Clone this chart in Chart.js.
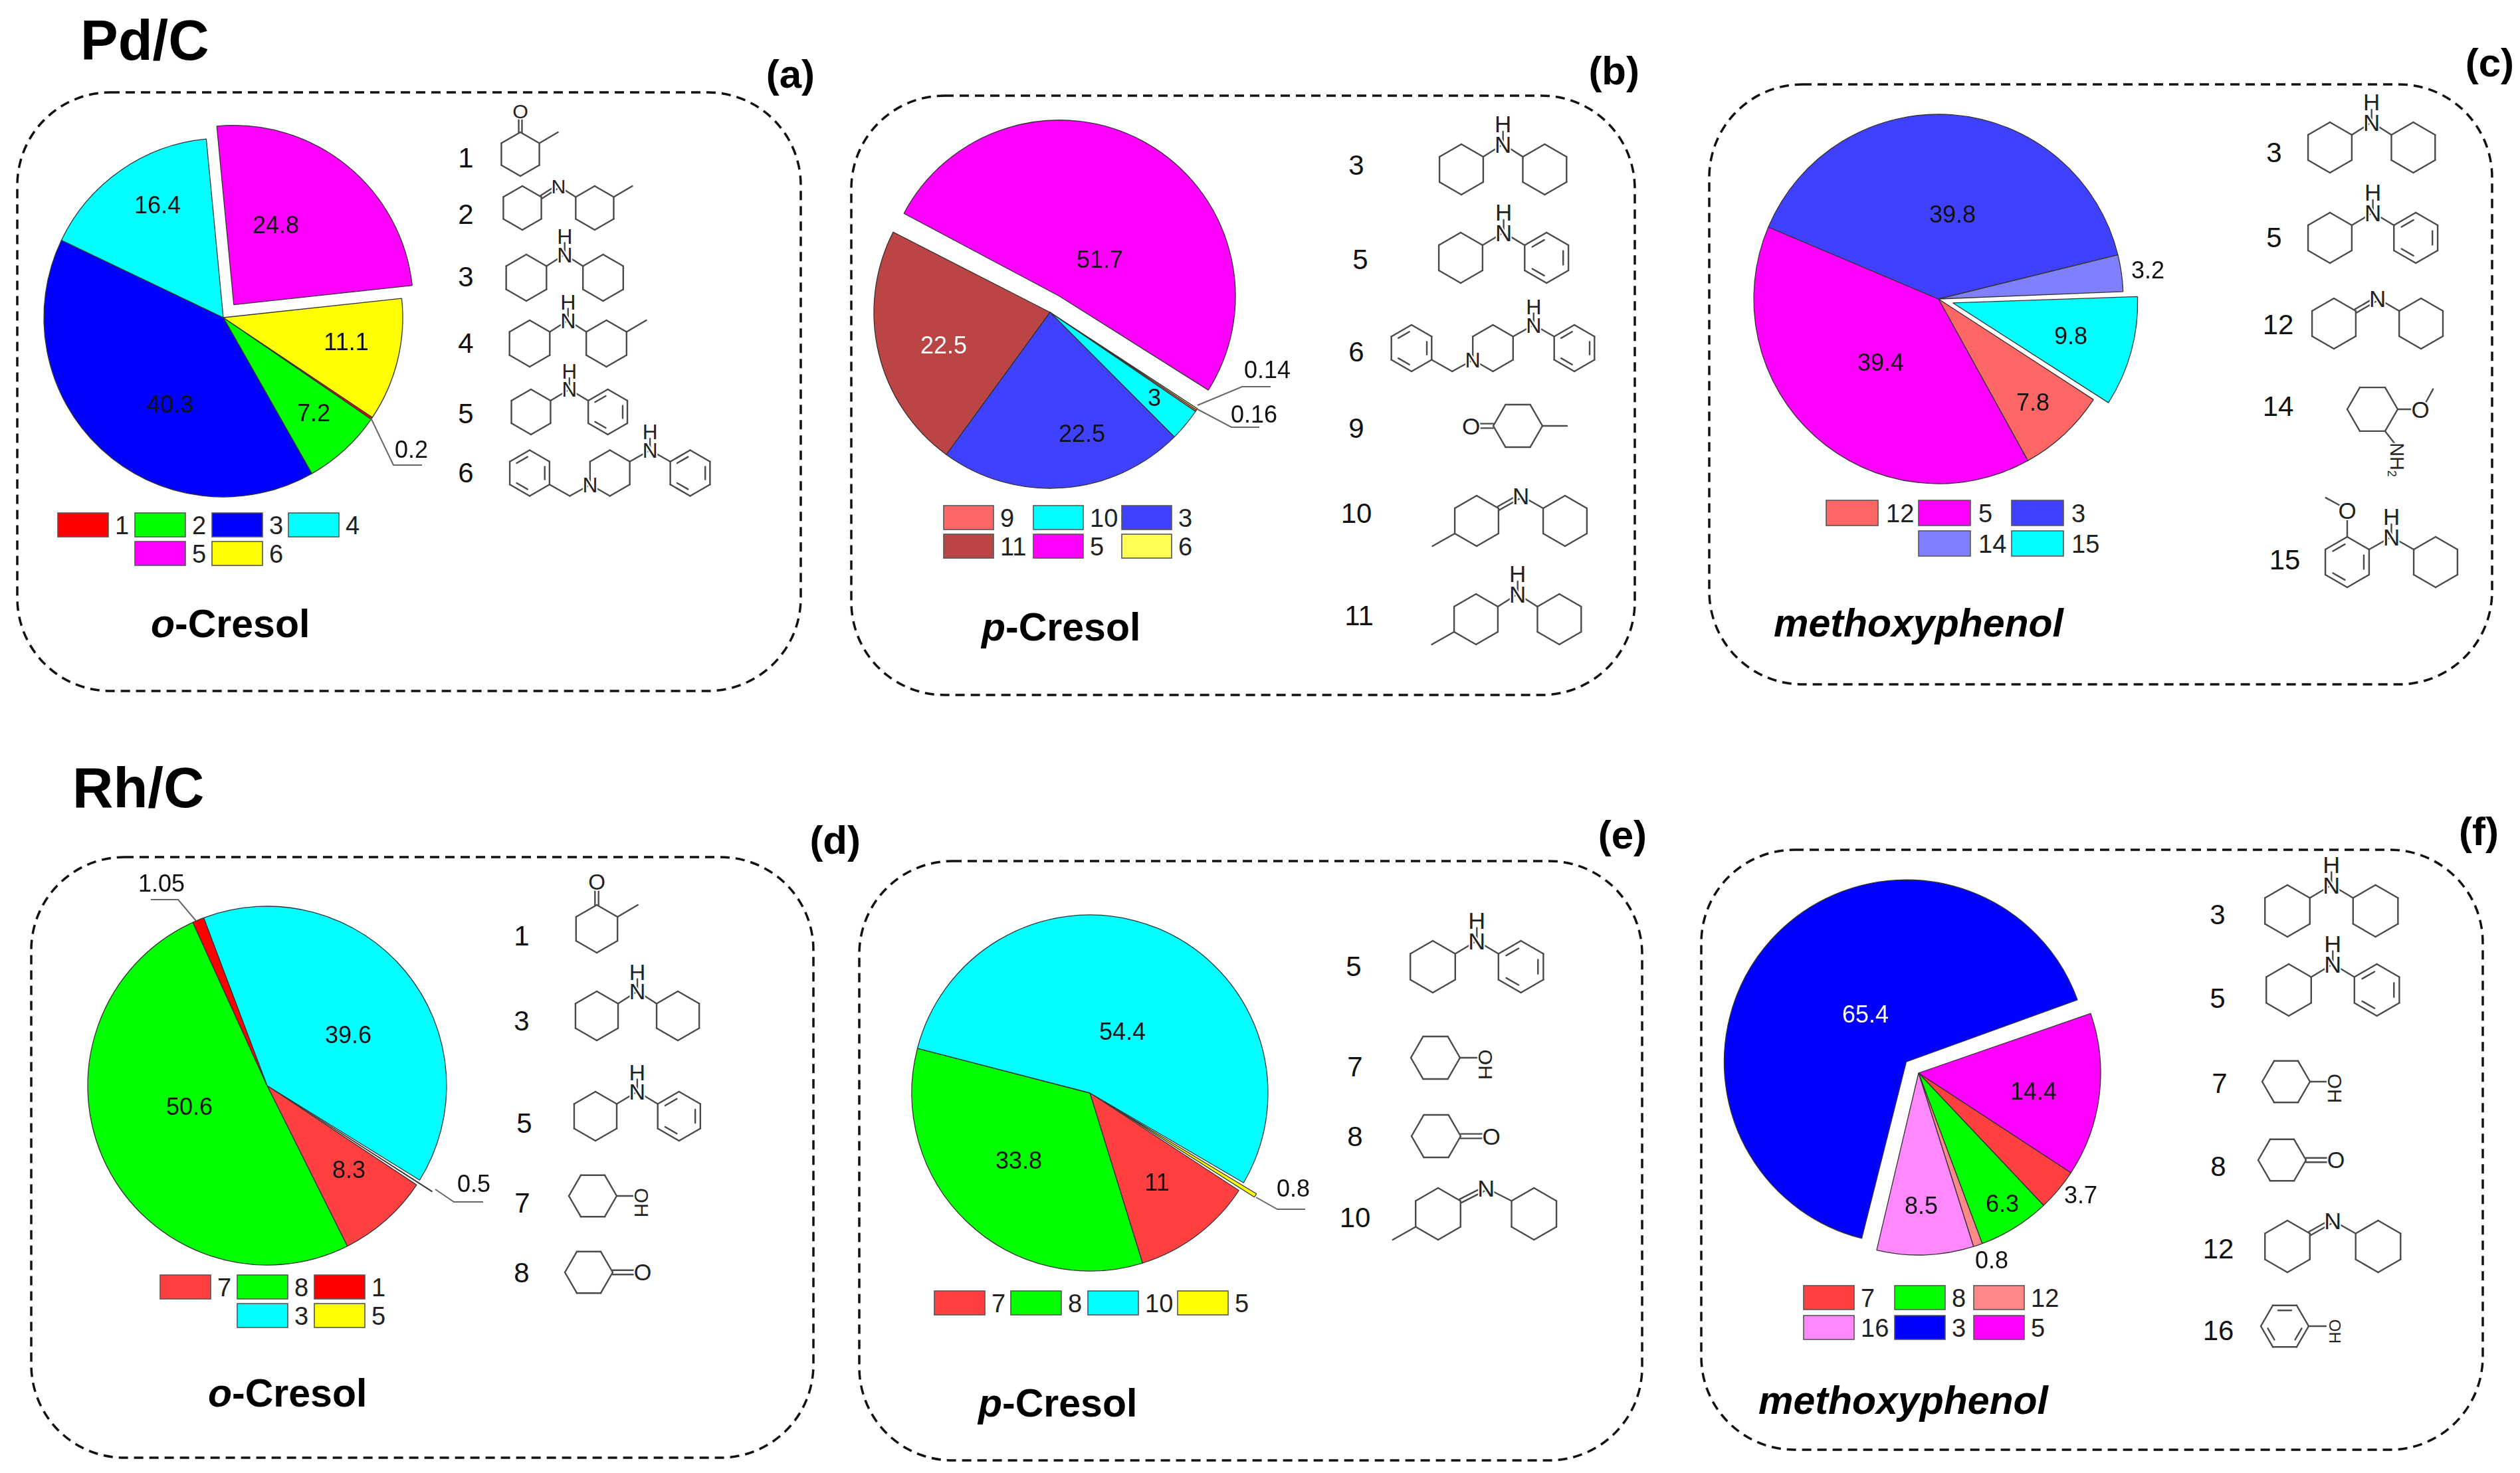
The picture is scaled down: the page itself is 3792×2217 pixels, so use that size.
<!DOCTYPE html>
<html><head><meta charset="utf-8">
<script src="https://cdn.jsdelivr.net/npm/chart.js@4"></script>
<style>
html,body{margin:0;padding:0;background:#fff;width:3792px;height:2217px;overflow:hidden}
#stage{position:relative;width:3792px;height:2217px}
canvas{position:absolute}
svg{position:absolute;left:0;top:0}
text{font-family:"Liberation Sans",Arial,sans-serif}
</style></head><body><div id="stage"></div>
<script>
// ---------- data ----------
const RED='#ff0000',GREEN='#00ff00',BLUE='#0000ff',CYAN='#00ffff',MAG='#ff00ff',YEL='#ffff00',
 SALMON='#ff6666',BRICK='#bb4444',BLUE2='#4040ff',LILAC='#8080ff',RED2='#ff4040',PINK='#ff8888',ORCHID='#ff88ff',YEL2='#ffff55';

const catA=['1','2','3','4','5','6'];
const valA=[0.2,7.2,40.3,16.4,24.8,11.1];
const colA=[RED,GREEN,BLUE,CYAN,MAG,YEL];

const catB=['9','10','3','11','5','6'];
const valB=[0.16,3,22.5,22.5,51.7,0.14];
const colB=[SALMON,CYAN,BLUE2,BRICK,MAG,YEL2];

const catC=['12','5','3','14','15'];
const valC=[7.8,39.4,39.8,3.2,9.8];
const colC=[SALMON,MAG,BLUE2,LILAC,CYAN];

const catD=['7','8','1','3','5'];
const valD=[8.3,50.6,1.05,39.6,0.5];
const colD=[RED2,GREEN,RED,CYAN,YEL];

const catE=['7','8','10','5'];
const valE=[11,33.8,54.4,0.8];
const colE=[RED2,GREEN,CYAN,YEL];

const catF=['7','8','12','16','3','5'];
const valF=[3.7,6.3,0.8,8.5,65.4,14.4];
const colF=[RED2,GREEN,PINK,ORCHID,BLUE,MAG];

// ---------- layout ----------
const panels=[
 {cat:catA,val:valA,col:colA,cx:336,cy:478,r:270,rot:123.8,explode:[0,0,0,0,25,0],
  box:[26,139,1205,1040],tag:'(a)',tagXY:[1226,132],sub:['o','-Cresol'],subXY:[227,959],
  labels:[[619,678],[472,623],[256,610],[237,310],[415,340],[521,516]],labelCol:{},
  leaders:[[[558,629],[592,700],[635,700]]],
  legend:{w:76,h:36,gap:10,slots:[[87,772],[203,772],[319,772],[434,772],[203,815],[319,815]]}},
 {cat:catB,val:valB,col:colB,cx:1580,cy:470,r:265,rot:123.7,explode:[0,0,0,0,28,0],
  box:[1281,144,2460,1046],tag:'(b)',tagXY:[2467,127],sub:['p','-Cresol'],subXY:[1477,964],
  labels:[[1887,625],[1737,600],[1628,654],[1420,521],[1655,392],[1907,558]],labelCol:{3:'#fff'},
  leaders:[[[1802,610],[1869,582],[1912,582]],[[1802,616],[1853,643],[1895,643]]],
  legend:{w:75,h:36,gap:10,slots:[[1420,761],[1555,761],[1688,761],[1420,804],[1555,804],[1688,804]]}},
 {cat:catC,val:valC,col:colC,cx:2917,cy:450,r:278,rot:123,explode:[0,0,0,0,22.5],
  box:[2572,127,3750,1030],tag:'(c)',tagXY:[3783,115],sub:['methoxyphenol',''],subXY:[2669,958],
  labels:[[3059,607],[2830,547],[2938,324],[3232,408],[3116,507]],labelCol:{},
  leaders:[],
  legend:{w:78,h:38,gap:12,slots:[[2748,753],[2887,753],[3027,753],[2887,799],[3027,799]]}},
 {cat:catD,val:valD,col:colD,cx:402,cy:1634,r:270,rot:123.6,explode:[0,0,0,0,25],
  box:[47,1290,1224,2194],tag:'(d)',tagXY:[1295,1285],sub:['o','-Cresol'],subXY:[313,2117],
  labels:[[525,1762],[285,1667],[243,1331],[524,1559],[713,1783]],labelCol:{},
  leaders:[[[295,1386],[268,1354],[227,1354]],[[655,1790],[683,1809],[727,1809]]],
  legend:{w:76,h:36,gap:10,slots:[[241,1919],[357,1919],[473,1919],[357,1962],[473,1962]]}},
 {cat:catE,val:valE,col:colE,cx:1640,cy:1645,r:268,rot:123.2,explode:[0,0,0,25],
  box:[1293,1296,2471,2198],tag:'(e)',tagXY:[2478,1277],sub:['p','-Cresol'],subXY:[1472,2132],
  labels:[[1741,1781],[1533,1748],[1689,1554],[1946,1790]],labelCol:{},
  leaders:[[[1890,1802],[1922,1820],[1964,1820]]],
  legend:{w:76,h:36,gap:10,slots:[[1406,1943],[1521,1943],[1637,1943],[1772,1943]]}},
 {cat:catF,val:valF,col:colF,cx:2887,cy:1615,r:274,rot:123.2,explode:[0,0,0,0,25,0],
  box:[2560,1279,3736,2182],tag:'(f)',tagXY:[3760,1272],sub:['methoxyphenol',''],subXY:[2646,2128],
  labels:[[3131,1800],[3013,1813],[2997,1898],[2891,1816],[2807,1528],[3060,1644]],labelCol:{4:'#fff'},
  leaders:[],
  legend:{w:76,h:36,gap:10,slots:[[2714,1935],[2851,1935],[2970,1935],[2714,1980],[2851,1980],[2970,1980]]}}
];

// ---------- Static text / boxes / molecules as SVG ----------
const out=[];
function T(t,x,y,size,o={}){
 out.push(`<text x="${x}" y="${y}" font-size="${size}" fill="${o.fill||'#111'}" font-weight="${o.bold?'bold':'normal'}" font-style="${o.italic?'italic':'normal'}" text-anchor="${o.anchor||'start'}">${t}</text>`);
}
T('Pd/C',121,90,85,{bold:1,fill:'#000'});
T('Rh/C',109,1215,85,{bold:1,fill:'#000'});

panels.forEach(p=>{
 const [x0,y0,x1,y1]=p.box;
 out.push(`<rect x="${x0}" y="${y0}" width="${x1-x0}" height="${y1-y0}" rx="140" ry="140" fill="none" stroke="#111" stroke-width="3.5" stroke-dasharray="14 9"/>`);
 T(p.tag,p.tagXY[0],p.tagXY[1],60,{bold:1,anchor:'end',fill:'#000'});
 const [a,b]=p.sub;
 out.push(`<text x="${p.subXY[0]}" y="${p.subXY[1]}" font-size="59" font-weight="bold" fill="#000"><tspan font-style="italic">${a}</tspan>${b}</text>`);
 p.cat.forEach((c,i)=>{
  const [sx,sy]=p.legend.slots[i];
  out.push(`<rect x="${sx}" y="${sy}" width="${p.legend.w}" height="${p.legend.h}" fill="${p.col[i]}" stroke="#555" stroke-width="1.6"/>`);
  T(c,sx+p.legend.w+p.legend.gap,sy+p.legend.h/2+14,38,{fill:'#222'});
 });
});

const W=.866;
function Mol(x,y,s){
 const atoms=[],P=(u,v)=>[x+u*s,y+v*s];
 const m={
  bond(a,b,c,d){const[p,q]=P(a,b),[r,t]=P(c,d);out.push(`<line x1="${p}" y1="${q}" x2="${r}" y2="${t}"/>`);},
  dbl(a,b,c,d,w=.075){const l=Math.hypot(c-a,d-b),nx=-(d-b)/l*w,ny=(c-a)/l*w;m.bond(a+nx,b+ny,c+nx,d+ny);m.bond(a-nx,b-ny,c-nx,d-ny);},
  ring(u,v,o={}){
   const pts=[];for(let i=0;i<6;i++){const an=(o.flat?0:-90)+60*i;pts.push([Math.cos(an*Math.PI/180),Math.sin(an*Math.PI/180)]);}
   for(let i=0;i<6;i++){const a=pts[i],b=pts[(i+1)%6];m.bond(u+a[0],v+a[1],u+b[0],v+b[1]);
    if(o.arom&&(i%2==(o.flat?0:1))){const k=.76,t=.14,ax=a[0]*k,ay=a[1]*k,bx=b[0]*k,by=b[1]*k;
     m.bond(u+ax+(bx-ax)*t,v+ay+(by-ay)*t,u+bx-(bx-ax)*t,v+by-(by-ay)*t);}}
  },
  atom(t,u,v,o={}){atoms.push([t,u,v,o]);},
  done(){
   atoms.forEach(([t,u,v,o])=>{const[p,q]=P(u,v),fs=(o.k||.92)*s;
    out.push(`<text transform="translate(${p} ${q})${o.rot?' rotate(90)':''}" y="${fs*.36}" text-anchor="middle" font-size="${fs}" fill="#222" stroke="#fff" stroke-width="4" paint-order="stroke">${t}</text>`);});
  }
 };
 return m;
}
function link(m,dx,o={}){
 const h=dx/2;
 if(o.imine)m.dbl(W,-.5,h,-1);else m.bond(W,-.5,h,-1);
 m.bond(h,-1,dx-W,-.5);
 if(!o.imine){m.bond(h,-1,h,-1.5);m.atom('H',h,-1.8);}
 m.atom('N',h,-1);
}
const make={
 m1(m){m.ring(0,0);m.dbl(0,-1,0,-1.65);m.bond(W,-.5,W+.85,-1);m.atom('O',0,-1.98);},
 m2(m){m.ring(0,0);m.ring(3.3,0);link(m,3.3,{imine:1});m.bond(3.3+W,-.5,3.3+W+.85,-1);},
 m3(m,dx=3.3){m.ring(0,0);m.ring(dx,0);link(m,dx);},
 m4(m){m.ring(0,0);m.ring(3.3,0);link(m,3.3);m.bond(3.3+W,-.5,3.3+W+.85,-1);},
 m5(m,dx=3.4){m.ring(0,0);m.ring(dx,0,{arom:1});link(m,dx);},
 m6(m){m.ring(0,0,{arom:1});m.bond(W,.5,1.75,1);m.bond(1.75,1,2.65,.5);m.ring(3.5,0);m.ring(7,0,{arom:1});
  m.bond(3.5+W,-.5,5.25,-1);m.bond(5.25,-1,7-W,-.5);m.bond(5.25,-1,5.25,-1.5);m.atom('H',5.25,-1.8);m.atom('N',5.25,-1);m.atom('N',3.5-W,.5);},
 m7(m){m.ring(0,0,{flat:1});m.bond(1,0,1.72,0);m.atom('OH',2.05,.28,{rot:1,k:.82});},
 m8(m){m.ring(0,0,{flat:1});m.dbl(1,0,1.9,0,.09);m.atom('O',2.25,0,{k:.95});},
 m9(m){m.ring(0,0,{flat:1});m.dbl(-1,0,-1.55,0,.09);m.bond(1,0,2,0);m.atom('O',-1.9,0,{k:.95});},
 m10(m,dx=3.5){m.ring(0,0);m.ring(dx,0);link(m,dx,{imine:1});m.bond(-W,.5,-1.75,1);},
 m11(m){m.ring(0,0);m.ring(3.3,0);link(m,3.3);m.bond(-W,.5,-1.75,1);},
 m12(m,dx=3.45){m.ring(0,0);m.ring(dx,0);link(m,dx,{imine:1});},
 m14(m){m.ring(0,0,{flat:1});m.bond(1,0,1.6,0);m.bond(2.1,-.25,2.4,-.8);m.bond(.5,.866,.95,1.45);m.atom('O',1.9,0);
  m.atom('NH<tspan font-size="18" dy="4">2</tspan>',.98,2,{rot:1,k:.76});},
 m15(m){m.ring(0,0,{arom:1});m.ring(3.5,0);link(m,3.5);m.bond(0,-1,0,-1.7);m.bond(-.3,-2.25,-.85,-2.55);m.atom('O',0,-2.03);},
 m16(m){m.ring(0,0,{flat:1,arom:1});m.bond(1,0,1.72,0);m.atom('OH',2.1,.22,{rot:1,k:.68});}
};
const molList=[
 // panel a
 ['1',701,237,'m1',783,232,33],['2',701,322,'m2',786,313,33],['3',701,416,'m3',792,418,35],
 ['4',701,516,'m4',797,517,35],['5',701,622,'m5',799,620,34],['6',701,711,'m6',797,712,34.5],
 // panel b
 ['3',2041,248,'m3',2199,255,38],['5',2047,390,'m5',2198,388,38],['6',2041,529,'m6',2124,524,35],
 ['9',2041,644,'m9',2284,641,37],['10',2041,772,'m10',2222,784,38],['11',2045,926,'m11',2221,932,38],
 // panel c
 ['3',3422,229,'m3',3506,222,38],['5',3422,357,'m5',3506,358,38],['12',3428,488,'m12',3512,487,38],
 ['14',3428,611,'m14',3570,616,38],['15',3438,842,'m15',3532,846,38],
 // panel d
 ['1',785,1408,'m1',898,1398,36],['3',785,1536,'m3',898,1529,37],['5',789,1690,'m5',896,1680,37],
 ['7',786,1810,'m7',892,1800,36],['8',785,1915,'m8',886,1915,36],
 // panel e
 ['5',2037,1454,'m5',2156,1455,39],['7',2039,1605,'m7',2160,1592,37],['8',2039,1710,'m8',2161,1710,37],
 ['10',2039,1832,'m10',2164,1827,39,3.7],
 // panel f
 ['3',3337,1376,'m3',3442,1371,39,3.4],['5',3337,1502,'m5',3444,1490,39],['7',3340,1630,'m7',3440,1628,36],
 ['8',3338,1755,'m8',3434,1746,36],['12',3338,1879,'m12',3442,1876,39,3.5],['16',3338,2002,'m16',3438,1996,36]
];
molList.forEach(([n,lx,ly,k,x,y,s,dx])=>{
 T(n,lx,ly+15,42,{anchor:'middle',fill:'#111'});
 out.push('<g stroke="#4a4a4a" stroke-width="2.4" stroke-linecap="round">');
 const m=Mol(x,y,s);make[k](m,dx);
 out.push('</g>');m.done();
});

const stage=document.getElementById('stage');
stage.insertAdjacentHTML('beforeend',`<svg width="3792" height="2217" viewBox="0 0 3792 2217" xmlns="http://www.w3.org/2000/svg">${out.join('')}</svg>`);

// ---------- Charts ----------
const S=780;
const fixRadius={id:'fixRadius',afterDatasetsUpdate(chart){
 chart.getDatasetMeta(0).data.forEach(a=>{
  const off=a.options.offset||0;
  a.outerRadius-=off/4*(1-Math.sin(Math.min(Math.PI,a.circumference)));
 });
}};
const annot={id:'annot',afterDatasetsDraw(chart,args,o){
 const p=o.panel,ctx=chart.ctx,ox=p.cx-S/2,oy=p.cy-S/2;
 ctx.save();
 ctx.strokeStyle='#666';ctx.lineWidth=2;
 p.leaders.forEach(l=>{ctx.beginPath();l.forEach(([x,y],i)=>i?ctx.lineTo(x-ox,y-oy):ctx.moveTo(x-ox,y-oy));ctx.stroke();});
 ctx.font='36px "Liberation Sans", Arial, sans-serif';ctx.textAlign='center';ctx.textBaseline='middle';
 p.val.forEach((v,i)=>{ctx.fillStyle=p.labelCol[i]||'#111';const[x,y]=p.labels[i];ctx.fillText(String(v),x-ox,y-oy+1);});
 ctx.restore();
}};
panels.forEach(p=>{
 const c=document.createElement('canvas');
 c.width=S;c.height=S;
 c.style.left=(p.cx-S/2)+'px';c.style.top=(p.cy-S/2)+'px';c.style.width=S+'px';c.style.height=S+'px';
 stage.appendChild(c);
 new Chart(c,{type:'pie',
  data:{labels:p.cat,datasets:[{data:p.val,backgroundColor:p.col,borderColor:'#333',borderWidth:1.3,offset:p.explode.map(d=>d*4)}]},
  options:{responsive:false,devicePixelRatio:1,animation:false,events:[],rotation:p.rot,radius:p.r,
   layout:{padding:0},
   plugins:{legend:{display:false},tooltip:{enabled:false},annot:{panel:p}}},
  plugins:[fixRadius,annot]});
});
</script></body></html>
